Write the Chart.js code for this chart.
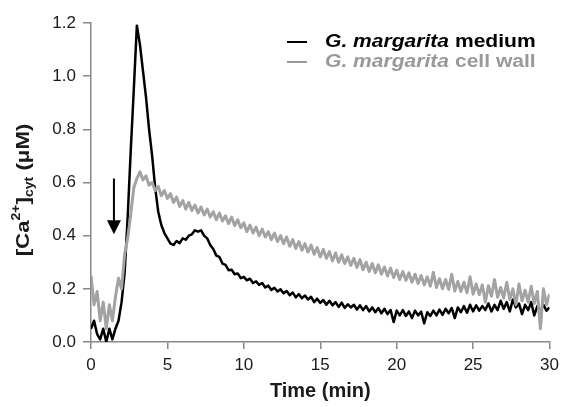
<!DOCTYPE html>
<html>
<head>
<meta charset="utf-8">
<script src="https://cdn.jsdelivr.net/npm/chart.js@4.4.1/dist/chart.umd.min.js"></script>
<style>
body { margin: 0; background: #fff; }
</style>
</head>
<body>
<canvas id="chart" width="565" height="407"></canvas>
<script>
// sampling step of the traces (min)
const timeStep = 0.2;

// G. margarita medium, [Ca2+]cyt in uM, one value every 0.2 min from 0 to 30
const mediumValues = [
    0.05, 0.08, 0.03, 0.01, 0.05, 0.00, 0.05, 0.01, 0.05, 0.08,
    0.15, 0.26, 0.47, 0.72, 0.95, 1.19, 1.12, 1.02, 0.92, 0.80,
    0.70, 0.58, 0.49, 0.44, 0.41, 0.39, 0.37, 0.365, 0.38, 0.372,
    0.39, 0.385, 0.40, 0.405, 0.42, 0.415, 0.42, 0.40, 0.39, 0.365,
    0.35, 0.325, 0.32, 0.295, 0.29, 0.27, 0.272, 0.255, 0.258, 0.24,
    0.245, 0.232, 0.238, 0.222, 0.228, 0.215, 0.222, 0.205, 0.212, 0.196,
    0.204, 0.19, 0.198, 0.183, 0.192, 0.176, 0.186, 0.168, 0.18, 0.165,
    0.175, 0.16, 0.17, 0.15, 0.163, 0.147, 0.158, 0.14, 0.155, 0.138,
    0.15, 0.132, 0.148, 0.128, 0.142, 0.13, 0.14, 0.122, 0.138, 0.12,
    0.135, 0.115, 0.13, 0.112, 0.128, 0.108, 0.125, 0.105, 0.12, 0.075,
    0.118, 0.10, 0.12, 0.098, 0.115, 0.09, 0.118, 0.10, 0.114, 0.07,
    0.112, 0.098, 0.118, 0.10, 0.122, 0.102, 0.125, 0.108, 0.128, 0.09,
    0.13, 0.112, 0.135, 0.11, 0.14, 0.115, 0.138, 0.118, 0.135, 0.12,
    0.145, 0.115, 0.14, 0.12, 0.155, 0.125, 0.15, 0.115, 0.16, 0.13,
    0.145, 0.105, 0.14, 0.12, 0.15, 0.10, 0.135, 0.115, 0.14, 0.118,
    0.13
];

// G. margarita cell wall
const wallValues = [
    0.25, 0.14, 0.19, 0.08, 0.15, 0.05, 0.14, 0.08, 0.17, 0.24,
    0.20, 0.33, 0.39, 0.48, 0.58, 0.615, 0.64, 0.61, 0.625, 0.59,
    0.60, 0.57, 0.585, 0.55, 0.57, 0.54, 0.558, 0.525, 0.545, 0.51,
    0.532, 0.50, 0.525, 0.495, 0.515, 0.485, 0.508, 0.478, 0.50, 0.47,
    0.49, 0.46, 0.485, 0.455, 0.475, 0.445, 0.47, 0.438, 0.46, 0.43,
    0.448, 0.415, 0.44, 0.41, 0.432, 0.40, 0.425, 0.395, 0.415, 0.385,
    0.41, 0.378, 0.40, 0.37, 0.395, 0.36, 0.385, 0.352, 0.378, 0.345,
    0.37, 0.338, 0.365, 0.33, 0.355, 0.32, 0.348, 0.315, 0.34, 0.305,
    0.335, 0.30, 0.328, 0.295, 0.32, 0.288, 0.315, 0.28, 0.31, 0.272,
    0.30, 0.265, 0.295, 0.26, 0.29, 0.255, 0.282, 0.248, 0.278, 0.242,
    0.27, 0.235, 0.265, 0.232, 0.26, 0.225, 0.255, 0.22, 0.25, 0.215,
    0.245, 0.21, 0.262, 0.205, 0.238, 0.20, 0.235, 0.198, 0.255, 0.192,
    0.228, 0.19, 0.225, 0.185, 0.245, 0.18, 0.218, 0.178, 0.215, 0.15,
    0.212, 0.172, 0.235, 0.168, 0.205, 0.165, 0.225, 0.16, 0.20, 0.14,
    0.218, 0.155, 0.195, 0.15, 0.21, 0.145, 0.19, 0.05, 0.20, 0.14,
    0.18
];

const times = mediumValues.map((_, i) => +(i * timeStep).toFixed(1));

// addition of the stimulus (arrow): time, top and tip
const arrowTime = 1.5;
const arrowTop = 0.615;
const arrowTip = 0.405;

const legendLabels = [
    { italic: 'G. margarita', plain: ' medium', color: '#000000' },
    { italic: 'G. margarita', plain: ' cell wall', color: '#999999' }
];

const axisColor = '#888888';
const textColor = '#1a1a1a';
const fontName = '"Liberation Sans", Arial, sans-serif';
// the figure's lettering is a little wider than Arial
const textStretch = 1.17;

const arrowPlugin = {
    id: 'arrow',
    afterDatasetsDraw(chart) {
        const ctx = chart.ctx;
        const x = chart.scales.x.getPixelForValue(arrowTime);
        const y1 = chart.scales.y.getPixelForValue(arrowTop);
        const y2 = chart.scales.y.getPixelForValue(arrowTip);
        ctx.save();
        ctx.strokeStyle = '#000';
        ctx.fillStyle = '#000';
        ctx.lineWidth = 2;
        ctx.beginPath();
        ctx.moveTo(x, y1);
        ctx.lineTo(x, y2 - 12);
        ctx.stroke();
        ctx.beginPath();
        ctx.moveTo(x - 7, y2 - 14);
        ctx.lineTo(x + 7, y2 - 14);
        ctx.lineTo(x, y2);
        ctx.closePath();
        ctx.fill();
        ctx.restore();
    }
};

const legendPlugin = {
    id: 'customLegend',
    afterDraw(chart) {
        const ctx = chart.ctx;
        ctx.save();
        ctx.textBaseline = 'middle';
        legendLabels.forEach((item, i) => {
            const y = 42 + i * 20;
            ctx.strokeStyle = item.color;
            ctx.lineWidth = 2;
            ctx.beginPath();
            ctx.moveTo(287, y);
            ctx.lineTo(307, y);
            ctx.stroke();
            ctx.save();
            ctx.translate(325, y);
            ctx.scale(textStretch, 1);
            ctx.fillStyle = item.color;
            ctx.font = 'italic bold 18px ' + fontName;
            ctx.fillText(item.italic, 0, 0);
            const w = ctx.measureText(item.italic).width;
            ctx.font = 'bold 18px ' + fontName;
            ctx.fillText(item.plain, w, 0);
            ctx.restore();
        });
        ctx.restore();
    }
};

const yTitlePlugin = {
    id: 'yTitle',
    afterDraw(chart) {
        const ctx = chart.ctx;
        const parts = [
            { t: '[Ca', f: 'bold 19px ', dy: 0 },
            { t: '2+', f: 'bold 12px ', dy: -9 },
            { t: ']', f: 'bold 19px ', dy: 0 },
            { t: 'cyt', f: 'bold 12px ', dy: 4 },
            { t: ' (\u03bcM)', f: 'bold 19px ', dy: 0 }
        ];
        let total = 0;
        parts.forEach(p => {
            ctx.font = p.f + fontName;
            p.w = ctx.measureText(p.t).width;
            total += p.w;
        });
        ctx.save();
        ctx.translate(29, 190);
        ctx.rotate(-Math.PI / 2);
        ctx.scale(textStretch, 1);
        ctx.fillStyle = textColor;
        ctx.textBaseline = 'alphabetic';
        let x = -total / 2;
        parts.forEach(p => {
            ctx.font = p.f + fontName;
            ctx.fillText(p.t, x, p.dy);
            x += p.w;
        });
        ctx.restore();
    }
};

new Chart(document.getElementById('chart'), {
    type: 'line',
    data: {
        labels: times,
        datasets: [
            {
                label: 'G. margarita cell wall',
                data: times.map((t, i) => ({ x: t, y: wallValues[i] })),
                borderColor: '#a3a3a3',
                borderWidth: 3,
                borderJoinStyle: 'round',
                pointRadius: 0,
                tension: 0,
                fill: false
            },
            {
                label: 'G. margarita medium',
                data: times.map((t, i) => ({ x: t, y: mediumValues[i] })),
                borderColor: '#000000',
                borderWidth: 2.5,
                borderJoinStyle: 'round',
                pointRadius: 0,
                tension: 0,
                fill: false
            }
        ]
    },
    options: {
        responsive: false,
        animation: false,
        devicePixelRatio: 1,
        layout: { padding: { top: 23, right: 12, left: 0, bottom: 0 } },
        plugins: {
            legend: { display: false },
            tooltip: { enabled: false }
        },
        scales: {
            x: {
                type: 'linear',
                min: 0,
                max: 30,
                afterFit: scale => { scale.height = 65; },
                ticks: {
                    stepSize: 5,
                    padding: 6,
                    color: textColor,
                    font: { family: fontName, size: 17 }
                },
                grid: { drawOnChartArea: false, tickLength: 7, color: axisColor, lineWidth: 1.5 },
                border: { color: axisColor, width: 1.5 },
                title: {
                    display: true,
                    text: 'Time (min)',
                    color: textColor,
                    padding: { top: 3 },
                    font: { family: fontName, size: 20, weight: 'bold' }
                }
            },
            y: {
                min: 0,
                max: 1.2,
                afterFit: scale => { scale.width = 91; },
                ticks: {
                    stepSize: 0.2,
                    padding: 7,
                    color: textColor,
                    font: { family: fontName, size: 17 },
                    callback: v => v.toFixed(1)
                },
                grid: { drawOnChartArea: false, tickLength: 8, color: axisColor, lineWidth: 1.5 },
                border: { color: axisColor, width: 1.5 }
            }
        }
    },
    plugins: [arrowPlugin, legendPlugin, yTitlePlugin]
});
</script>
</body>
</html>
